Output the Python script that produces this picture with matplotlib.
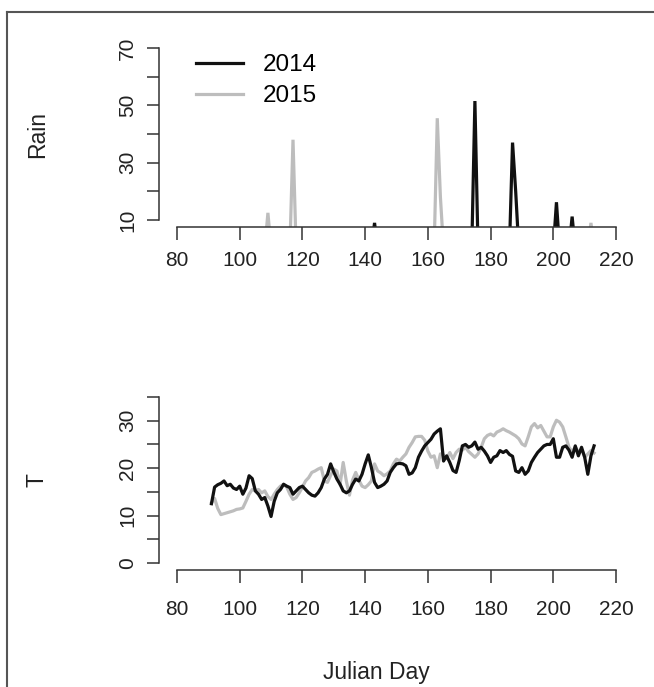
import numpy as np
import matplotlib
matplotlib.use("Agg")
import matplotlib.pyplot as plt
from matplotlib.lines import Line2D
from matplotlib.ticker import FixedLocator

plt.rcParams['font.family'] = ['Liberation Sans', 'DejaVu Sans']

# ---------------- data ----------------
days = list(range(91, 214))

rain_2014_days = [143, 175, 187, 188, 201, 206]
rain_2014_mm = [9.0, 51.5, 37.0, 20.0, 16.2, 11.2]
rain_2015_days = [109, 117, 163, 164, 212]
rain_2015_mm = [12.5, 38.0, 45.5, 18.0, 9.0]

temp_2014 = [
    12.5, 16.0, 16.5, 16.8, 17.3, 16.3, 16.6, 15.8, 15.5, 16.2,   # 91-100
    14.5, 15.8, 18.4, 17.8, 15.2, 14.5, 13.4, 13.8, 12.0, 9.8,    # 101-110
    13.0, 14.8, 15.5, 16.6, 16.2, 15.9, 14.5, 15.2, 15.9, 16.2,   # 111-120
    15.5, 14.8, 14.3, 14.1, 14.8, 15.9, 17.7, 18.7, 20.9, 19.2,   # 121-130
    17.7, 16.6, 15.2, 14.8, 15.2, 16.6, 17.7, 17.3, 18.7, 20.9,   # 131-140
    22.8, 20.1, 17.0, 15.9, 16.2, 16.6, 17.3, 19.1, 20.1, 20.9,   # 141-150
    21.0, 20.9, 20.5, 18.7, 19.0, 20.1, 22.3, 23.6, 24.7, 25.4,   # 151-160
    26.1, 27.2, 27.8, 28.3, 21.5, 22.6, 21.2, 19.5, 19.1, 21.6,   # 161-170
    24.7, 25.0, 24.4, 24.7, 25.5, 24.0, 24.4, 23.6, 22.6, 21.2,   # 171-180
    22.3, 22.6, 23.7, 23.3, 23.7, 22.9, 22.5, 19.4, 19.1, 20.1,   # 181-190
    18.7, 19.4, 21.2, 22.3, 23.3, 24.0, 24.7, 25.0, 25.0, 26.2,   # 191-200
    22.3, 22.3, 24.4, 24.7, 23.8, 22.3, 24.7, 22.6, 24.4, 22.3,   # 201-210
    18.7, 22.6, 24.7,                                             # 211-213
]

temp_2015 = [
    12.7, 13.6, 11.5, 10.2, 10.4, 10.6, 10.8, 11.0, 11.3, 11.4,   # 91-100
    11.6, 13.0, 14.5, 15.5, 15.2, 15.5, 14.8, 15.2, 14.0, 13.4,   # 101-110
    14.5, 15.5, 16.2, 16.6, 16.0, 14.5, 13.4, 13.8, 14.8, 16.0,   # 111-120
    17.3, 18.0, 19.1, 19.4, 19.8, 20.1, 17.3, 17.0, 18.5, 19.8,   # 121-130
    19.4, 16.5, 21.2, 17.3, 14.3, 17.5, 19.1, 17.5, 16.2, 15.9,   # 131-140
    16.5, 17.3, 20.9, 19.4, 19.0, 18.4, 18.8, 19.4, 20.9, 21.9,   # 141-150
    21.5, 22.3, 23.0, 24.4, 25.4, 26.6, 26.7, 26.7, 25.9, 23.6,   # 151-160
    22.3, 22.6, 20.1, 23.0, 22.8, 22.0, 23.3, 22.0, 23.3, 24.0,   # 161-170
    23.8, 24.4, 23.5, 22.9, 22.3, 23.0, 24.4, 26.2, 26.9, 27.2,   # 171-180
    26.8, 27.6, 27.9, 28.3, 27.9, 27.6, 27.2, 26.8, 26.2, 25.1,   # 181-190
    24.7, 26.6, 28.7, 29.4, 28.5, 29.0, 27.8, 26.6, 26.6, 28.7,   # 191-200
    30.1, 29.7, 28.7, 26.6, 24.4, 23.5, 24.4, 23.5, 24.0, 22.3,   # 201-210
    23.0, 23.7, 23.2,                                             # 211-213
]

x_ticks = [80, 100, 120, 140, 160, 180, 200, 220]
series_labels = ["2014", "2015"]

# build full daily rain series (zero on days without rain)
def daily(ds, vals):
    out = np.zeros(len(days))
    for d, v in zip(ds, vals):
        out[days.index(d)] = v
    return out

rain_2014 = daily(rain_2014_days, rain_2014_mm)
rain_2015 = daily(rain_2015_days, rain_2015_mm)

# ---------------- style ----------------
BLACK = "#111111"
GREY = "#bdbdbd"
AXC = "#333333"
LW = 2.3
TICK_FS = 15
LAB_FS = 16.5
LEG_FS = 17.5

W, H = 654, 687
fig = plt.figure(figsize=(W / 100, H / 100), dpi=100)

def frac_box(x0, x1, ytop, ybot):
    return [x0 / W, 1 - ybot / H, (x1 - x0) / W, (ybot - ytop) / H]

ax1 = fig.add_axes(frac_box(159.4, 633.6, 41.1, 226.9))
ax2 = fig.add_axes(frac_box(159.4, 633.6, 390.4, 569.6))

def style(ax, ylo, yhi, ymaj, ymin_ticks, xpad):
    ax.set_xlim(74.4, 225.6)
    for s in ("top", "right"):
        ax.spines[s].set_visible(False)
    for s in ("left", "bottom"):
        ax.spines[s].set_color(AXC)
        ax.spines[s].set_linewidth(1.1)
    ax.spines["bottom"].set_bounds(80, 220)
    ax.spines["left"].set_bounds(ylo, yhi)
    ax.xaxis.set_major_locator(FixedLocator(x_ticks))
    ax.yaxis.set_major_locator(FixedLocator(ymaj))
    ax.yaxis.set_minor_locator(FixedLocator(ymin_ticks))
    ax.tick_params(axis="both", which="both", direction="out", length=9,
                   width=1.1, color=AXC, labelsize=TICK_FS, labelcolor="#222222")
    ax.tick_params(axis="x", pad=xpad)
    ax.tick_params(axis="y", pad=7)
    for lab in ax.get_yticklabels():
        lab.set_rotation(90)
        lab.set_va("center")
    ax.set_facecolor("none")

# ---- Rain panel ----
ax1.plot(days, rain_2015, color=GREY, lw=LW, solid_joinstyle="miter")
ax1.plot(days, rain_2014, color=BLACK, lw=LW, solid_joinstyle="miter")
ax1.set_ylim(7.6, 72.4)
style(ax1, 10, 70, [10, 30, 50, 70], [20, 40, 60], 8)
ax1.set_ylabel("Rain", fontsize=LAB_FS, color="#222222")
ax1.yaxis.set_label_coords((49 - 159.4) / 474.2, 0.5)

handles = [Line2D([], [], color=BLACK, lw=LW), Line2D([], [], color=GREY, lw=LW)]
fig.legend(handles, series_labels, loc="upper left",
           bbox_to_anchor=(196 / W, 1 - 54 / H), frameon=False,
           fontsize=LEG_FS, handlelength=1.95, handletextpad=0.8,
           labelspacing=0.38, borderpad=0, borderaxespad=0)

# ---- Temperature panel ----
ax2.plot(days, temp_2015, color=GREY, lw=LW)
ax2.plot(days, temp_2014, color=BLACK, lw=LW)
ax2.set_ylim(-1.4, 36.4)
style(ax2, 0, 35, [0, 10, 20, 30], [5, 15, 25, 35], 13)
ax2.set_ylabel("T", fontsize=LAB_FS, color="#222222")
ax2.yaxis.set_label_coords((49 - 159.4) / 474.2, 0.5)

fig.text(376 / W, 1 - 673 / H, "Julian Day", fontsize=LAB_FS, color="#222222",
         ha="center", va="center")

# ---- outer frame (top and left edges) ----
fig.add_artist(Line2D([7 / W, 1.0], [1 - 12 / H, 1 - 12 / H],
                      transform=fig.transFigure, color="#555555", lw=1.5))
fig.add_artist(Line2D([7 / W, 7 / W], [0.0, 1 - 12 / H],
                      transform=fig.transFigure, color="#555555", lw=1.5))

fig.savefig("out.png", dpi=100)
